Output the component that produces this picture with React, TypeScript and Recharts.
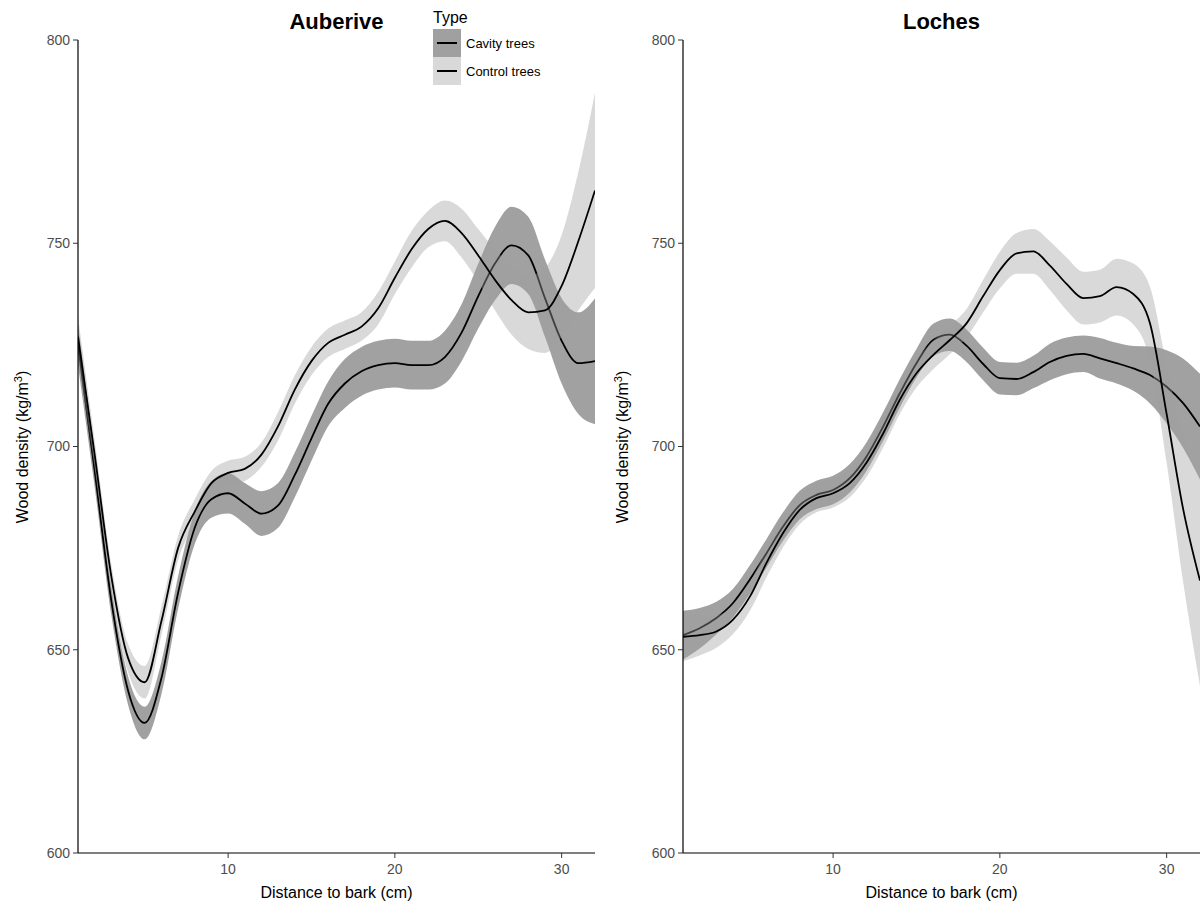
import { ComposedChart, Area, XAxis, YAxis } from 'recharts';

const distance = [1, 2, 3, 4, 5, 6, 7, 8, 9, 10, 11, 12, 13, 14, 15, 16, 17, 18, 19, 20, 21, 22, 23, 24, 25, 26, 27, 28, 29, 30, 31, 32];

// Auberive
const aubCavity = [725, 694, 662, 640, 632, 643, 664, 680, 687, 688.5, 686, 683.5, 685.5, 693, 702, 710.5, 715.5, 718.5, 720, 720.5, 720, 720, 722, 728, 737, 745, 749.5, 747, 736.5, 726, 720.5, 721];
const aubCavityBand = [5, 4, 3.5, 3.5, 4, 4, 4, 4, 4.5, 5, 5, 5.5, 5.5, 5.5, 5.5, 5.5, 6, 6, 6, 6, 6, 6, 6.5, 7, 8, 9, 9.5, 9.5, 9.5, 10.5, 12.5, 15.5];
const aubControl = [727, 698, 668, 648, 642, 657, 675, 684, 691, 693.5, 694.5, 698, 705, 714, 721, 725.5, 727.5, 729.5, 734, 741.5, 748.5, 753.5, 755.5, 752.5, 747, 741, 736, 733, 733.5, 739.5, 750.5, 763];
const aubControlBand = [5, 3.5, 3, 3.5, 4, 3.5, 3, 3, 3, 3, 3, 3, 3.5, 3.5, 3.5, 3.5, 3.5, 3.5, 4, 4, 4.5, 4.5, 5, 6, 6.5, 7.5, 8.5, 9, 10.5, 12.5, 17, 24];

// Loches
const locCavity = [653.6, 655.3, 657.8, 661.5, 667.2, 673.7, 680.3, 685.6, 688.1, 689.3, 692.2, 697.5, 704.9, 713.1, 720.5, 726.2, 727.5, 724.8, 720.3, 716.8, 716.6, 718.3, 720.8, 722.3, 722.8, 721.7, 720.5, 719.2, 717.6, 714.7, 710.6, 704.9];
const locCavityBand = [6, 5, 4, 3.5, 3.5, 3.5, 3.5, 3.5, 3.5, 3.5, 3.5, 3.5, 3.5, 3.5, 3.5, 4, 4, 4, 4, 4, 4, 4, 4.5, 4.5, 4.5, 5, 5, 5.5, 7, 9, 11, 13];
const locControl = [653.2, 653.6, 654.5, 657.4, 663, 671.3, 678.7, 684.4, 687.3, 688.5, 691, 696, 703.2, 711.5, 718, 722.5, 726.2, 730.3, 737, 743.4, 747.5, 748, 744.5, 740, 736.5, 737, 739.2, 737.5, 730.3, 708, 684.4, 667];
const locControlBand = [6, 5, 4, 3.5, 3.5, 3.5, 3.5, 3.5, 3.5, 3.5, 3.5, 3.5, 3.5, 3.5, 3.5, 3.5, 3.5, 3.5, 4, 4.5, 5, 5.5, 6, 6.5, 6.5, 6.5, 7, 7.5, 9, 12, 18, 26];

const xTicks = [10, 20, 30];
const yTicks = [600, 650, 700, 750, 800];

const FONT = '"Liberation Sans", Arial, sans-serif';

const buildRows = (cav: number[], cavBand: number[], ctl: number[], ctlBand: number[]) =>
  distance.map((d, i) => ({
    d,
    cavity: cav[i],
    cavityRange: [cav[i] - cavBand[i], cav[i] + cavBand[i]],
    control: ctl[i],
    controlRange: [ctl[i] - ctlBand[i], ctl[i] + ctlBand[i]],
  }));

const aubRows = buildRows(aubCavity, aubCavityBand, aubControl, aubControlBand);
const locRows = buildRows(locCavity, locCavityBand, locControl, locControlBand);

interface PanelProps {
  title: string;
  rows: ReturnType<typeof buildRows>;
  left: number;
  yWidth: number;
  rightMargin: number;
}

const Panel = ({ title, rows, left, yWidth, rightMargin }: PanelProps) => {
  const plotLeft = left + yWidth;
  const plotRight = left + 600 - rightMargin;
  const center = (plotLeft + plotRight) / 2;
  return (
    <>
      <div style={{ position: 'absolute', left, top: 0 }}>
        <ComposedChart width={600} height={906} data={rows} margin={{ top: 40, right: rightMargin, bottom: 0, left: 0 }}>
          <XAxis
            dataKey="d"
            type="number"
            domain={[1, 32]}
            ticks={xTicks}
            allowDataOverflow
            height={53}
            axisLine={{ stroke: '#000', strokeWidth: 1.2 }}
            tickLine={{ stroke: '#333' }}
            tickSize={5}
            tickMargin={6}
            tick={{ fill: '#4d4d4d', fontSize: 14, fontFamily: FONT }}
          />
          <YAxis
            type="number"
            domain={[600, 800]}
            ticks={yTicks}
            allowDataOverflow
            width={yWidth}
            axisLine={{ stroke: '#000', strokeWidth: 1.2 }}
            tickLine={{ stroke: '#333' }}
            tickSize={5}
            tickMargin={3}
            tick={{ fill: '#4d4d4d', fontSize: 14, fontFamily: FONT }}
          />
          <Area type="monotone" dataKey="cavityRange" stroke="none" fill="#131313" fillOpacity={0.4} isAnimationActive={false} />
          <Area type="monotone" dataKey="cavity" stroke="#000" strokeWidth={1.8} fill="none" isAnimationActive={false} />
          <Area type="monotone" dataKey="controlRange" stroke="none" fill="#a0a0a0" fillOpacity={0.4} isAnimationActive={false} />
          <Area type="monotone" dataKey="control" stroke="#000" strokeWidth={1.8} fill="none" isAnimationActive={false} />
        </ComposedChart>
      </div>
      <div style={{ position: 'absolute', left: center, top: 22, transform: 'translate(-50%, -50%)', fontFamily: FONT, fontWeight: 'bold', fontSize: 22, whiteSpace: 'nowrap' }}>
        {title}
      </div>
      <div style={{ position: 'absolute', left: center, top: 893, transform: 'translate(-50%, -50%)', fontFamily: FONT, fontSize: 16, whiteSpace: 'nowrap' }}>
        Distance to bark (cm)
      </div>
      <div style={{ position: 'absolute', left: left + 22, top: 447, transform: 'translate(-50%, -50%) rotate(-90deg)', fontFamily: FONT, fontSize: 16, whiteSpace: 'nowrap' }}>
        Wood density (kg/m<sup style={{ fontSize: 11 }}>3</sup>)
      </div>
    </>
  );
};

const Legend = () => (
  <div style={{ position: 'absolute', left: 433, top: 8, fontFamily: FONT }}>
    <div style={{ fontSize: 16, lineHeight: '20px', height: 21 }}>Type</div>
    {[
      { label: 'Cavity trees', fill: '#a0a0a0' },
      { label: 'Control trees', fill: '#d9d9d9' },
    ].map((k) => (
      <div key={k.label} style={{ display: 'flex', alignItems: 'center', height: 28 }}>
        <div style={{ width: 28, height: 28, background: k.fill, position: 'relative' }}>
          <div style={{ position: 'absolute', left: 4, right: 4, top: 13, height: 2, background: '#000' }} />
        </div>
        <span style={{ fontSize: 13, marginLeft: 5 }}>{k.label}</span>
      </div>
    ))}
  </div>
);

export default function App() {
  return (
    <div style={{ position: 'absolute', left: 0, top: 0, width: 1200, height: 906, overflow: 'hidden', background: '#fff' }}>
      <Panel title="Auberive" rows={aubRows} left={0} yWidth={78} rightMargin={5} />
      <Panel title="Loches" rows={locRows} left={600} yWidth={83} rightMargin={0} />
      <Legend />
    </div>
  );
}
